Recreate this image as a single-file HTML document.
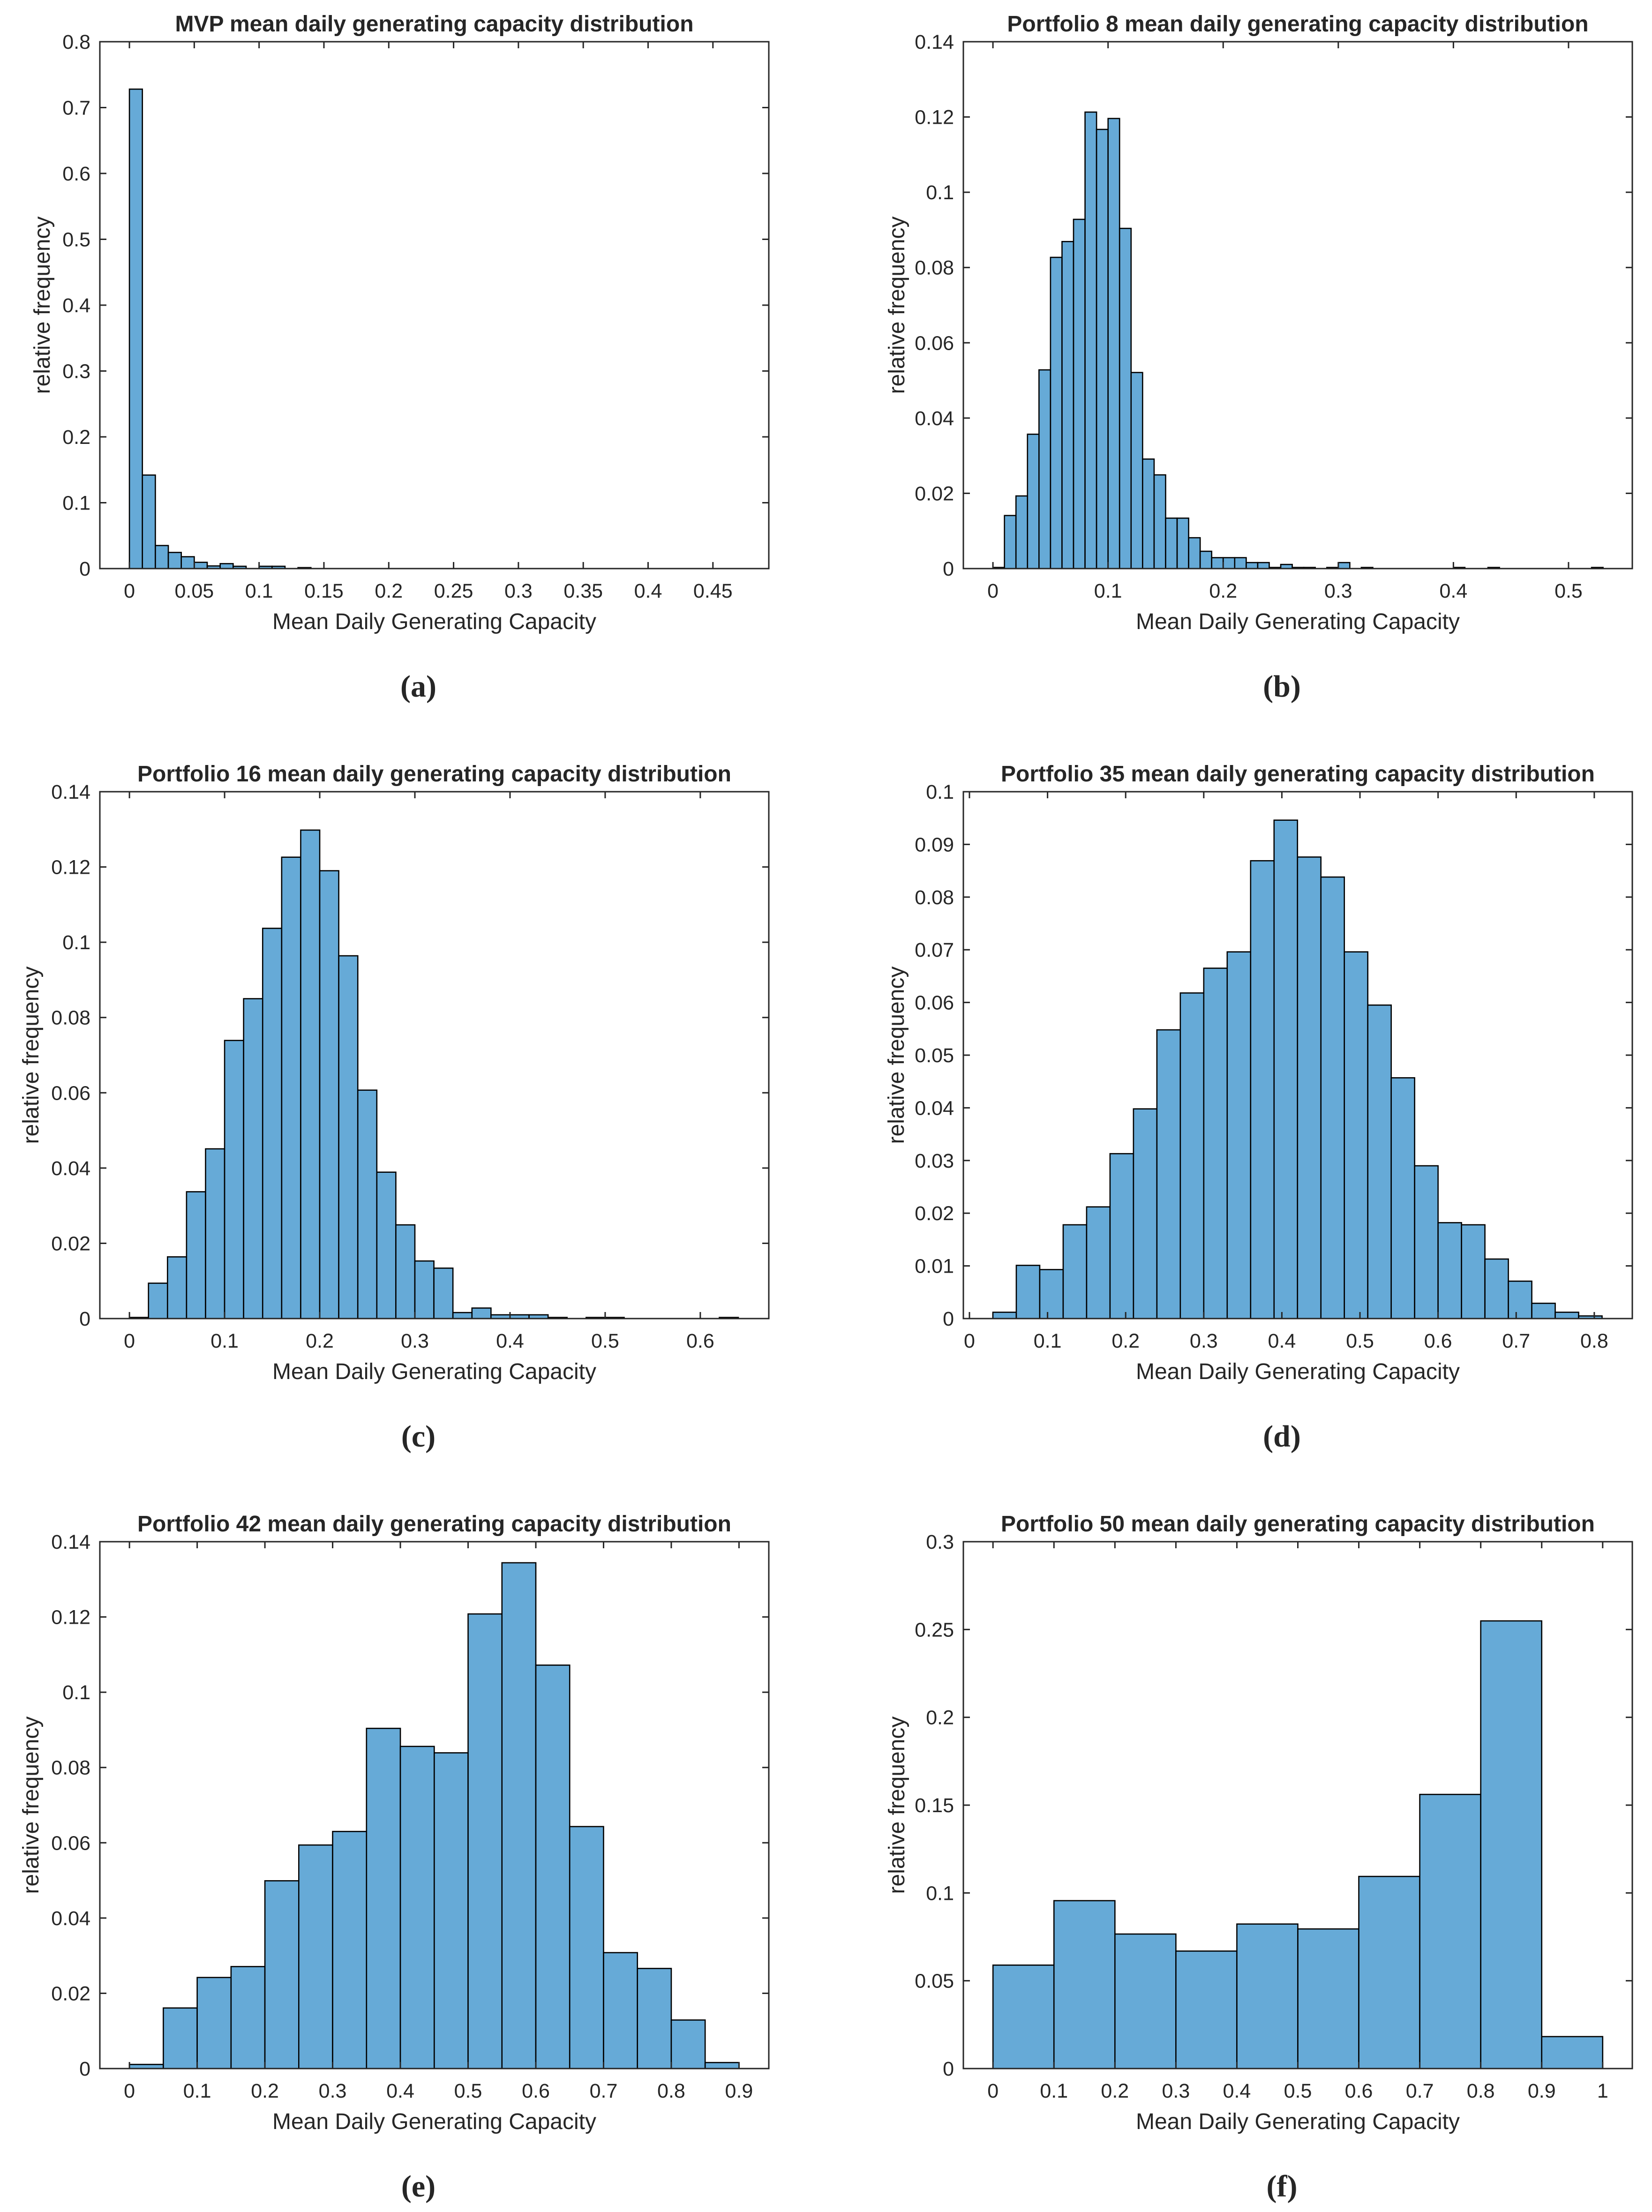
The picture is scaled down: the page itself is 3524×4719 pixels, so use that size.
<!DOCTYPE html>
<html><head><meta charset="utf-8"><title>Mean daily generating capacity distributions</title>
<style>
html,body{margin:0;padding:0;background:#fff;}
svg{display:block;}
text{font-family:"Liberation Sans",Arial,sans-serif;fill:#262626;}
</style></head>
<body>
<svg id="fig" width="3524" height="4719" viewBox="0 0 3524 4719" xmlns="http://www.w3.org/2000/svg">
<rect x="0" y="0" width="3524" height="4719" fill="#fff"/>
</svg>
<script>
// ---- Data (relative frequencies) ----
const aValues = [0.728,0.142,0.035,0.0245,0.018,0.0095,0.004,0.0075,0.0035,0,0.0035,0.0035,0,0.0015];
const bValues = [0.0003,0.0141,0.0193,0.0357,0.0528,0.0827,0.0869,0.0928,0.1213,0.1167,0.1196,0.0904,0.0521,0.0291,0.0249,0.0134,0.0134,0.0082,0.0046,0.0029,0.0029,0.0029,0.0016,0.0016,0.0003,0.0011,0.0003,0.0003,0,0.0003,0.0016,0,0.0003,0,0,0,0,0,0,0,0.0003,0,0,0.0003,0,0,0,0,0,0,0,0,0.0003];
const cValues = [0.0003,0.0094,0.0164,0.0337,0.0451,0.0739,0.085,0.1037,0.1226,0.1298,0.119,0.0964,0.0607,0.0389,0.0249,0.0153,0.0134,0.0016,0.0028,0.001,0.001,0.001,0.0003,0,0.0003,0.0003,0,0,0,0,0,0.0003];
const dValues = [0.0012,0.0101,0.0093,0.0178,0.0212,0.0313,0.0398,0.0548,0.0618,0.0665,0.0696,0.0869,0.0946,0.0876,0.0838,0.0696,0.0595,0.0457,0.029,0.0182,0.0178,0.0113,0.0071,0.0029,0.0012,0.0005];
const eValues = [0.0011,0.0161,0.0242,0.0271,0.0499,0.0594,0.063,0.0904,0.0856,0.0839,0.1208,0.1344,0.1072,0.0643,0.0308,0.0266,0.0129,0.0016];
const fValues = [0.0589,0.0956,0.0766,0.0669,0.0823,0.0795,0.1094,0.1561,0.2549,0.0182];

const aBin = {start:0, width:0.01}; const bBin = {start:0, width:0.01};
const cBin = {start:0, width:0.02}; const dBin = {start:0.03, width:0.03};
const eBin = {start:0, width:0.05}; const fBin = {start:0, width:0.1};

const aXTicks = ["0","0.05","0.1","0.15","0.2","0.25","0.3","0.35","0.4","0.45"];
const bXTicks = ["0","0.1","0.2","0.3","0.4","0.5"];
const cXTicks = ["0","0.1","0.2","0.3","0.4","0.5","0.6"];
const dXTicks = ["0","0.1","0.2","0.3","0.4","0.5","0.6","0.7","0.8"];
const eXTicks = ["0","0.1","0.2","0.3","0.4","0.5","0.6","0.7","0.8","0.9"];
const fXTicks = ["0","0.1","0.2","0.3","0.4","0.5","0.6","0.7","0.8","0.9","1"];

const aYTicks = ["0","0.1","0.2","0.3","0.4","0.5","0.6","0.7","0.8"];
const bYTicks = ["0","0.02","0.04","0.06","0.08","0.1","0.12","0.14"];
const cYTicks = ["0","0.02","0.04","0.06","0.08","0.1","0.12","0.14"];
const dYTicks = ["0","0.01","0.02","0.03","0.04","0.05","0.06","0.07","0.08","0.09","0.1"];
const eYTicks = ["0","0.02","0.04","0.06","0.08","0.1","0.12","0.14"];
const fYTicks = ["0","0.05","0.1","0.15","0.2","0.25","0.3"];

const aXLim = [-0.0228,0.4931]; const bXLim = [-0.0257,0.5554];
const cXLim = [-0.0311,0.672];  const dXLim = [-0.0078,0.8487];
const eXLim = [-0.0437,0.944];  const fXLim = [-0.0486,1.0486];

const titles = ["MVP mean daily generating capacity distribution","Portfolio 8 mean daily generating capacity distribution","Portfolio 16 mean daily generating capacity distribution","Portfolio 35 mean daily generating capacity distribution","Portfolio 42 mean daily generating capacity distribution","Portfolio 50 mean daily generating capacity distribution"];
const captions = ["(a)","(b)","(c)","(d)","(e)","(f)"];

// ---- Rendering ----
const NS = "http://www.w3.org/2000/svg";
const svg = document.getElementById('fig');
function mk(tag, attrs, parent){ const e=document.createElementNS(NS,tag); for(const k in attrs) e.setAttribute(k,attrs[k]); (parent||svg).appendChild(e); return e; }

const panels = [
 {v:aValues,bin:aBin,xt:aXTicks,yt:aYTicks,xl:aXLim,col:0,row:0,ylOff:123},
 {v:bValues,bin:bBin,xt:bXTicks,yt:bYTicks,xl:bXLim,col:1,row:0,ylOff:142},
 {v:cValues,bin:cBin,xt:cXTicks,yt:cYTicks,xl:cXLim,col:0,row:1,ylOff:147},
 {v:dValues,bin:dBin,xt:dXTicks,yt:dYTicks,xl:dXLim,col:1,row:1,ylOff:143},
 {v:eValues,bin:eBin,xt:eXTicks,yt:eYTicks,xl:eXLim,col:0,row:2,ylOff:147},
 {v:fValues,bin:fBin,xt:fXTicks,yt:fYTicks,xl:fXLim,col:1,row:2,ylOff:142}
];
const colX = [213,2055], W = 1427, rowY = [89,1689,3289], H = 1124;

panels.forEach((p,i)=>{
  const L=colX[p.col], T=rowY[p.row], R=L+W, B=T+H;
  const g = mk('g',{});
  
  
  const yMax = parseFloat(p.yt[p.yt.length-1]);
  const xs = x => L + (x-p.xl[0])/(p.xl[1]-p.xl[0])*W;
  const ys = y => B - y/yMax*H;
  // bars
  p.v.forEach((val,k)=>{
    if(val<=0) return;
    const x0=xs(p.bin.start+k*p.bin.width), x1=xs(p.bin.start+(k+1)*p.bin.width);
    const r = mk('rect',{x:x0,y:ys(val),width:x1-x0,height:B-ys(val),fill:'#66aad7',stroke:'#000','stroke-width':2.6},g);
    
    
  });
  // axes box
  const box = mk('rect',{x:L,y:T,width:W,height:H,fill:'none',stroke:'#262626','stroke-width':3},g);
  
  
  // x ticks
  p.xt.forEach(t=>{
    const x=xs(parseFloat(t));
    mk('line',{x1:x,y1:B,x2:x,y2:B-14,stroke:'#262626','stroke-width':3},g);
    mk('line',{x1:x,y1:T,x2:x,y2:T+14,stroke:'#262626','stroke-width':3},g);
    const tx=mk('text',{x:x,y:B+62,'font-size':43,'text-anchor':'middle'},g);
    tx.textContent=t;
    
    
  });
  // y ticks
  p.yt.forEach(t=>{
    const y=ys(parseFloat(t));
    mk('line',{x1:L,y1:y,x2:L+14,y2:y,stroke:'#262626','stroke-width':3},g);
    mk('line',{x1:R,y1:y,x2:R-14,y2:y,stroke:'#262626','stroke-width':3},g);
    const ty=mk('text',{x:L-20,y:y+15,'font-size':43,'text-anchor':'end'},g);
    ty.textContent=t;
    
    
  });
  // title
  const tt=mk('text',{x:(L+R)/2,y:T-22,'font-size':48,'font-weight':'bold','text-anchor':'middle',fill:'#000'},g);
  tt.textContent=titles[i];
  
  
  // x label
  const xl=mk('text',{x:(L+R)/2,y:B+129,'font-size':48,'text-anchor':'middle'},g);
  xl.textContent='Mean Daily Generating Capacity';
  
  
  // y label
  const yx=L-p.ylOff+16, yy=(T+B)/2;
  const yl=mk('text',{x:yx,y:yy,'font-size':48,'text-anchor':'middle',transform:'rotate(-90 '+yx+' '+yy+')'},g);
  yl.textContent='relative frequency';
  
  
  // caption
  const cp=mk('text',{x:(L+R)/2-34,y:B+273,'font-size':66,'font-weight':'bold','text-anchor':'middle',fill:'#000',style:'font-family:"Liberation Serif",serif'},g);
  cp.textContent=captions[i];
  
  
});
</script>
</body></html>
